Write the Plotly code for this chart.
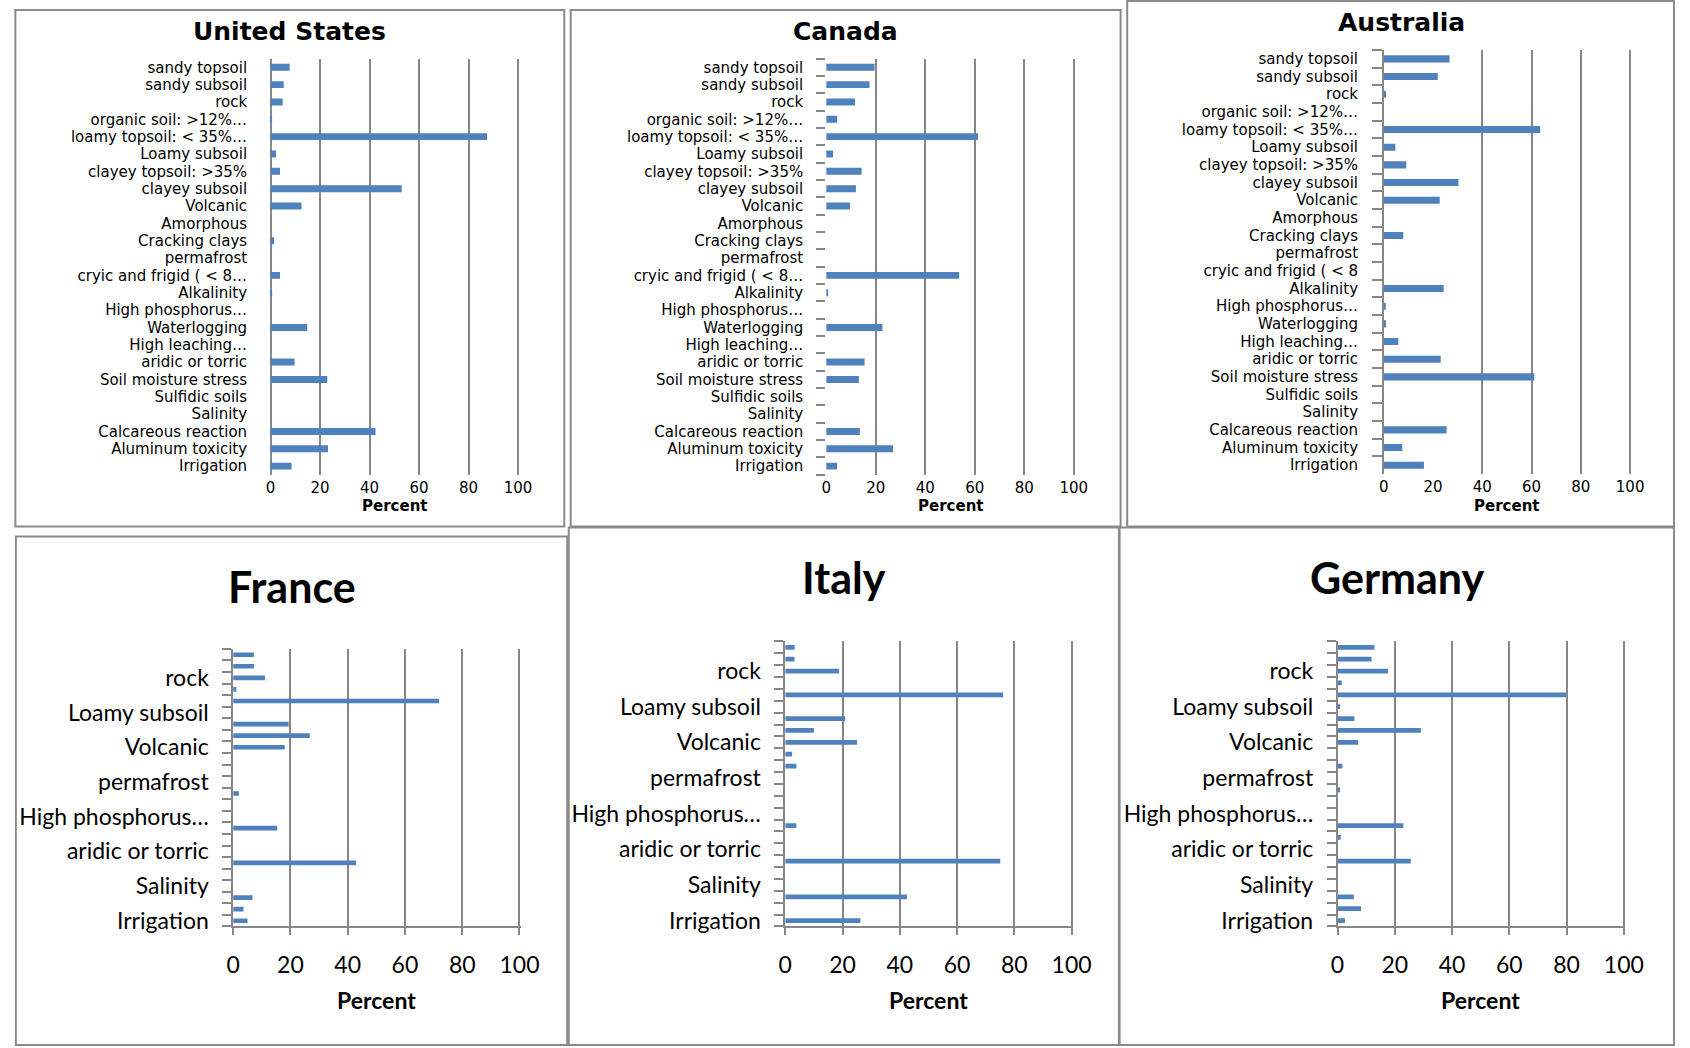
import plotly.graph_objects as go

W, H = 1690, 1048

# ---------------- data ----------------
categories = ["sandy topsoil", "sandy subsoil", "rock", "organic soil: >12%…",
              "loamy topsoil: < 35%…", "Loamy subsoil", "clayey topsoil: >35%",
              "clayey subsoil", "Volcanic", "Amorphous", "Cracking clays", "permafrost",
              "cryic and frigid ( < 8…", "Alkalinity", "High phosphorus…", "Waterlogging",
              "High leaching…", "aridic or torric", "Soil moisture stress", "Sulfidic soils",
              "Salinity", "Calcareous reaction", "Aluminum toxicity", "Irrigation"]

australia_labels = ["sandy topsoil", "sandy subsoil", "rock", "organic soil: >12%…",
                    "loamy topsoil: < 35%…", "Loamy subsoil", "clayey topsoil: >35%",
                    "clayey subsoil", "Volcanic", "Amorphous", "Cracking clays", "permafrost",
                    "cryic and frigid ( < 8", "Alkalinity", "High phosphorus…", "Waterlogging",
                    "High leaching…", "aridic or torric", "Soil moisture stress", "Sulfidic soils",
                    "Salinity", "Calcareous reaction", "Aluminum toxicity", "Irrigation"]

bottom_labels = ["", "", "rock", "", "", "Loamy subsoil", "", "", "Volcanic", "", "",
                 "permafrost", "", "", "High phosphorus…", "", "", "aridic or torric", "", "",
                 "Salinity", "", "", "Irrigation"]

x_ticks = [0, 20, 40, 60, 80, 100]

us_values = [7.7, 5.3, 4.9, 0.5, 87.5, 2.2, 3.8, 53.0, 12.5, 0, 1.4, 0,
             3.8, 0.5, 0, 14.8, 0, 9.7, 22.9, 0, 0, 42.4, 23.2, 8.5]
canada_values = [19.5, 17.5, 11.6, 4.4, 61.3, 2.8, 14.3, 12.0, 9.6, 0, 0, 0,
                 53.7, 0.8, 0, 22.7, 0, 15.5, 13.2, 0, 0, 13.6, 27.0, 4.4]
australia_values = [26.7, 21.9, 0.9, 0, 63.5, 4.7, 9.1, 30.3, 22.7, 0, 7.9, 0,
                    0, 24.3, 0.5, 0.9, 5.9, 23.1, 61.1, 0, 0, 25.5, 7.5, 16.3]
france_values = [7.25, 7.25, 11.1, 1.1, 71.9, 0, 19.4, 26.75, 18.0, 0, 0, 0,
                 2.0, 0, 0, 15.4, 0, 0, 42.9, 0, 0, 6.75, 3.6, 5.0]
italy_values = [3.25, 3.25, 18.75, 0, 76.1, 0, 20.9, 10.0, 25.1, 2.4, 3.9, 0,
                0, 0, 0, 3.9, 0, 0, 75.1, 0, 0, 42.5, 0, 26.25]
germany_values = [12.9, 11.9, 17.6, 1.5, 79.8, 0.9, 5.9, 29.1, 7.2, 0, 1.7, 0,
                  0.9, 0, 0, 23.0, 1.1, 0, 25.6, 0, 0, 5.7, 8.2, 2.6]

# ---------------- styling helpers ----------------
BAR = "#4F81BD"
GRID = "#878787"
TOP_FONT = "DejaVu Sans"
BOT_FONT = "Lato"


def fx(px):
    return px / W


def fy(px):
    return 1 - px / H


panels = [
    dict(name="United States", values=us_values, labels=categories, kind="top_us",
         x=(267.7, 519.0), y=(59, 478), title=(287.4, 31.7), percent=(393.4, 509),
         grid=[0, 20, 40, 60, 80, 100], box=(8.5, 10, 566, 530)),
    dict(name="Canada", values=canada_values, labels=categories, kind="top_ca",
         x=(832, 1083.5), y=(59, 478), title=(851.4, 31.7), percent=(957.8, 509),
         grid=[20, 40, 60, 80, 100], box=(572.5, 10, 1131, 530)),
    dict(name="Australia", values=australia_values, labels=australia_labels, kind="top_au",
         x=(1398.3, 1648.5), y=(50.4, 477.2), title=(1416.7, 22.7), percent=(1523.4, 509),
         grid=[40, 60, 80, 100], box=(1137.7, 1, 1693, 530)),
    dict(name="France", values=france_values, labels=bottom_labels, kind="bottom",
         x=(229.7, 520.5), y=(653.3, 932.7), title=(289, 590), percent=(375, 1006.7),
         grid=[20, 40, 60, 80, 100], box=(9, 540, 569, 1052)),
    dict(name="Italy", values=italy_values, labels=bottom_labels, kind="bottom",
         x=(790.4, 1081.2), y=(645.7, 932.7), title=(850.4, 581.7), percent=(935.8, 1006.7),
         grid=[20, 40, 60, 80, 100], box=(570.5, 531, 1130, 1052)),
    dict(name="Germany", values=germany_values, labels=bottom_labels, kind="bottom",
         x=(1351.3, 1642.1), y=(645.7, 932.7), title=(1411.5, 581.7), percent=(1496.7, 1006.7),
         grid=[20, 40, 60, 80, 100], box=(1129.3, 531, 1693, 1052)),
]

fig = go.Figure()
layout = {}
annotations = []
shapes = []

for i, p in enumerate(panels, start=1):
    sx = "" if i == 1 else str(i)
    top = p["kind"].startswith("top")
    fig.add_trace(go.Bar(
        x=p["values"], y=categories, orientation="h",
        marker=dict(color=BAR, line=dict(width=0)),
        xaxis="x" + sx, yaxis="y" + sx, showlegend=False,
    ))

    tick_font = dict(family=TOP_FONT if top else BOT_FONT, size=15 if top else 23, color="black")

    # pad the value range by ~1.5 px on each side so edge gridlines are drawn
    x0, x1 = p["x"]
    upx = 100.0 / (x1 - x0)          # data units per pixel
    pad = 1.5 * upx
    lo = -pad if p["kind"] == "top_us" else 0.0
    hi = 100 + pad
    dom0 = x0 + lo / upx
    dom1 = x0 + hi / upx

    xa = dict(
        domain=[fx(dom0), fx(dom1)], anchor="y" + sx,
        range=[lo, hi], tickmode="array", tickvals=x_ticks,
        ticktext=[str(v) for v in x_ticks],
        tickfont=tick_font, showgrid=False, zeroline=False, fixedrange=True,
        minor=dict(tickmode="array", tickvals=p["grid"], showgrid=True,
                   gridcolor=GRID, gridwidth=1.5, ticks=""),
    )
    ya = dict(
        domain=[fy(p["y"][1]), fy(p["y"][0])], anchor="x" + sx,
        type="category", categoryorder="array", categoryarray=categories,
        autorange="reversed", tickmode="array", tickvals=categories,
        ticktext=p["labels"], tickfont=tick_font, showgrid=False, zeroline=False,
        tickson="boundaries", fixedrange=True,
    )
    if p["kind"] == "top_us":
        xa.update(showline=False, ticks="", ticklabelstandoff=2)
        ya.update(ticks="", showline=False, ticklabelstandoff=21)
    elif p["kind"] == "top_ca":
        xa.update(showline=False, ticks="", ticklabelstandoff=2)
        ya.update(ticks="outside", ticklen=9, tickcolor=GRID, tickwidth=1.5,
                  showline=False, ticklabelstandoff=22)
    elif p["kind"] == "top_au":
        xa.update(showline=False, ticks="", ticklabelstandoff=2)
        ya.update(ticks="outside", ticklen=10, tickcolor=GRID, tickwidth=1.5,
                  showline=True, linecolor=GRID, linewidth=1.5, ticklabelstandoff=21)
    else:
        xa.update(showline=True, linecolor=GRID, linewidth=1.5, ticks="outside",
                  ticklen=7, tickcolor=GRID, tickwidth=1.5, ticklabelstandoff=10)
        ya.update(ticks="outside", ticklen=9, tickcolor=GRID, tickwidth=1.5,
                  showline=True, linecolor=GRID, linewidth=1.5, ticklabelstandoff=18)

    layout["xaxis" + sx] = xa
    layout["yaxis" + sx] = ya

    # panel title
    annotations.append(dict(
        text=p["name"], xref="paper", yref="paper",
        x=fx(p["title"][0]), y=fy(p["title"][1]), xanchor="center", yanchor="middle",
        showarrow=False,
        font=dict(family=TOP_FONT if top else BOT_FONT, size=25 if top else 43,
                  color="black", weight="bold"),
    ))
    # axis title
    annotations.append(dict(
        text="Percent", xref="paper", yref="paper",
        x=fx(p["percent"][0]), y=fy(p["percent"][1]), xanchor="center", yanchor="middle",
        showarrow=False,
        font=dict(family=TOP_FONT if top else BOT_FONT, size=15 if top else 23,
                  color="black", weight="bold"),
    ))
    # panel border
    b = p["box"]
    shapes.append(dict(type="rect", xref="paper", yref="paper",
                       x0=fx(b[0]), x1=fx(b[2]), y0=fy(b[3]), y1=fy(b[1]),
                       line=dict(color="#8a8a8a", width=2), fillcolor="rgba(0,0,0,0)",
                       layer="below"))

fig.update_layout(
    width=W, height=H, margin=dict(l=0, r=0, t=0, b=0),
    paper_bgcolor="white", plot_bgcolor="white",
    bargap=0.6, annotations=annotations, shapes=shapes,
    **layout,
)

fig.write_html(
    "out.html",
    config={"displayModeBar": False},
    post_script="document.body.style.margin='0px';document.body.style.overflow='hidden';",
)
